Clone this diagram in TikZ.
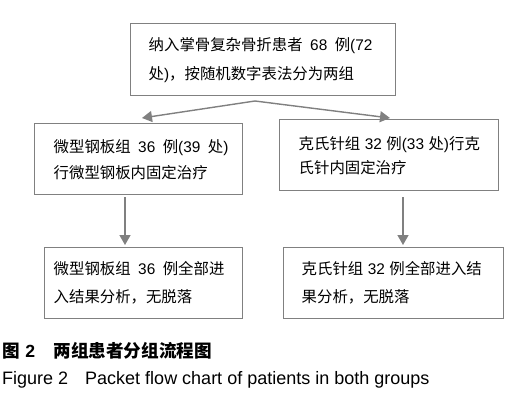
\documentclass[tikz,border=0pt]{standalone}
\usepackage{fontspec}
\setmainfont{Liberation Sans}
\newfontfamily\cjk{Noto Sans CJK SC}
\usetikzlibrary{arrows.meta}
\newcommand\zh[1]{{\cjk #1}}
\newcommand\gap{\nobreak\hspace{7.5pt}\nobreak}
\newcommand\sgap{\nobreak\hspace{4.5pt}\nobreak}
\definecolor{linegray}{RGB}{128,128,128}
\begin{document}
\begin{tikzpicture}[x=1pt,y=-1pt,
  box/.style={draw=linegray, line width=1.4pt, rectangle, align=left,
    font=\fontsize{15.4}{28}\selectfont,
    inner ysep=0pt, anchor=north west, text=black},
  arr/.style={draw=linegray, line width=1.4pt, -{Triangle[length=10pt,width=11pt]}, fill=linegray},
  captext/.style={anchor=base west, inner sep=0pt, text=black}
]
\useasboundingbox (0,0) rectangle (531,404);

\node[box, font=\fontsize{15.4}{29}\selectfont, minimum width=265pt, minimum height=72pt, inner xsep=18pt, text width=229pt] (top) at (130,23)
  {\zh{纳入掌骨复杂骨折患者}\gap 68\gap\zh{例}(72\\\zh{处})\zh{，按随机数字表法分为两组}};

\node[box, font=\fontsize{15.4}{26}\selectfont, minimum width=208pt, minimum height=71pt, inner xsep=19pt, text width=170pt] (midL) at (34,123)
  {\zh{微型钢板组}\gap 36\gap\zh{例}(39\gap\zh{处})\\\zh{行微型钢板内固定治疗}};

\node[box, font=\fontsize{15.4}{24}\selectfont, minimum width=219pt, minimum height=71pt, inner xsep=19pt, text width=181pt] (midR) at (279,119)
  {\zh{克氏针组}\sgap 32\sgap\zh{例}(33\sgap\zh{处})\zh{行克}\\\zh{氏针内固定治疗}};

\node[box, minimum width=198pt, minimum height=71pt, inner xsep=9pt, text width=180pt] (botL) at (44,247)
  {\zh{微型钢板组}\gap 36\gap\zh{例全部进}\\\zh{入结果分析，无脱落}};

\node[box, minimum width=220pt, minimum height=71pt, inner xsep=18pt, text width=184pt] (botR) at (283,247)
  {\zh{克氏针组}\sgap 32\sgap\zh{例全部进入结}\\\zh{果分析，无脱落}};

\coordinate (split) at (255,101);
\coordinate (tipL) at (142,118);
\coordinate (tipR) at (390,118);
\coordinate (sL) at (125,197);
\coordinate (eL) at (125,245);
\coordinate (sR) at (403,197);
\coordinate (eR) at (403,245);

\draw[arr] (split) -- (tipL);
\draw[arr] (split) -- (tipR);
\draw[arr] (sL) -- (eL);
\draw[arr] (sR) -- (eR);

\node[captext, font=\fontsize{17.6}{20}\selectfont\bfseries] (cap1) at (2,357)
  {\zh{图}\hspace{5.5pt}2\hspace{18.5pt}\zh{两组患者分组流程图}};
\node[captext, font=\fontsize{18}{20}\selectfont] (cap2) at (2,384)
  {Figure~2\hspace{17pt}Packet flow chart of patients in both groups};
\end{tikzpicture}
\end{document}
